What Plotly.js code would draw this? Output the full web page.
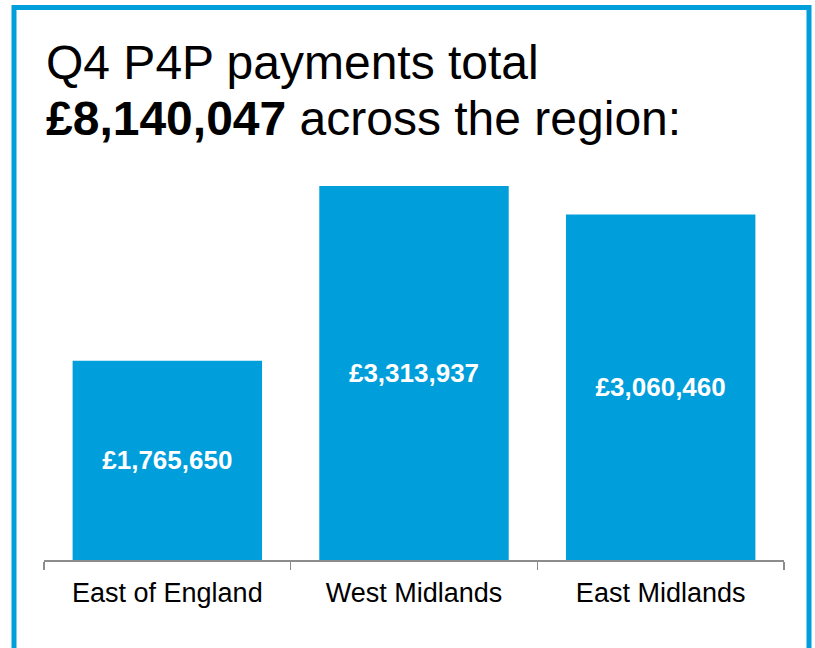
<!DOCTYPE html>
<html>
<head>
<meta charset="utf-8">
<script src="https://cdn.plot.ly/plotly-3.0.1.min.js"></script>
<style>
html,body{margin:0;padding:0;background:#fff;}
#chart{width:815px;height:648px;}
</style>
</head>
<body>
<div id="chart"></div>
<script>
var categories = ["East of England", "West Midlands", "East Midlands"];
var payments = [1765650, 3313937, 3060460];
var titleLine1 = "Q4 P4P payments total";
var titleTotal = "£8,140,047";
var titleRest = " across the region:";

var FONT = "Liberation Sans, Arial, Helvetica, sans-serif";
var BLUE = "#009edb";

var trace = {
  type: "bar",
  x: categories,
  y: payments,
  marker: {color: BLUE, line: {width: 0}},
  texttemplate: "£%{y:,}",
  textposition: "inside",
  insidetextanchor: "middle",
  textangle: 0,
  constraintext: "none",
  textfont: {family: FONT, size: 26, color: "#ffffff", weight: "bold"},
  hoverinfo: "skip"
};

var layout = {
  width: 815,
  height: 648,
  margin: {l: 44, r: 31, t: 165, b: 88},
  paper_bgcolor: "#ffffff",
  plot_bgcolor: "#ffffff",
  showlegend: false,
  bargap: 0.232,
  font: {family: FONT, color: "#000000"},
  title: {
    text: titleLine1,
    font: {family: FONT, size: 48, color: "#000000"},
    xref: "container", x: 46/815, xanchor: "left",
    yref: "container", y: 1 - 62/648, yanchor: "middle"
  },
  annotations: [{
    text: "<b>" + titleTotal + "</b>" + titleRest,
    font: {family: FONT, size: 48, color: "#000000"},
    xref: "paper", x: (44 - 44) / 740, xanchor: "left",
    yref: "paper", y: (560 - 118) / 395, yanchor: "middle",
    showarrow: false
  }],
  xaxis: {
    type: "category",
    showline: true, linecolor: "#8c8c8c", linewidth: 1.5,
    ticks: "outside", tickson: "boundaries", ticklen: 8, tickwidth: 1.5, tickcolor: "#8c8c8c",
    ticklabelstandoff: 8,
    tickfont: {family: FONT, size: 27, color: "#000000"},
    showgrid: false, zeroline: false, fixedrange: true
  },
  yaxis: {
    range: [0, 3500000],
    visible: false, showgrid: false, zeroline: false, fixedrange: true
  },
  shapes: [{
    type: "rect", xref: "paper", yref: "paper",
    x0: (14 - 44) / 740, x1: (809 - 44) / 740,
    y0: -0.3, y1: (560 - 7.5) / 395,
    line: {color: BLUE, width: 5}, fillcolor: "rgba(0,0,0,0)", layer: "above"
  }]
};

Plotly.newPlot("chart", [trace], layout, {displayModeBar: false, staticPlot: true});
</script>
</body>
</html>
